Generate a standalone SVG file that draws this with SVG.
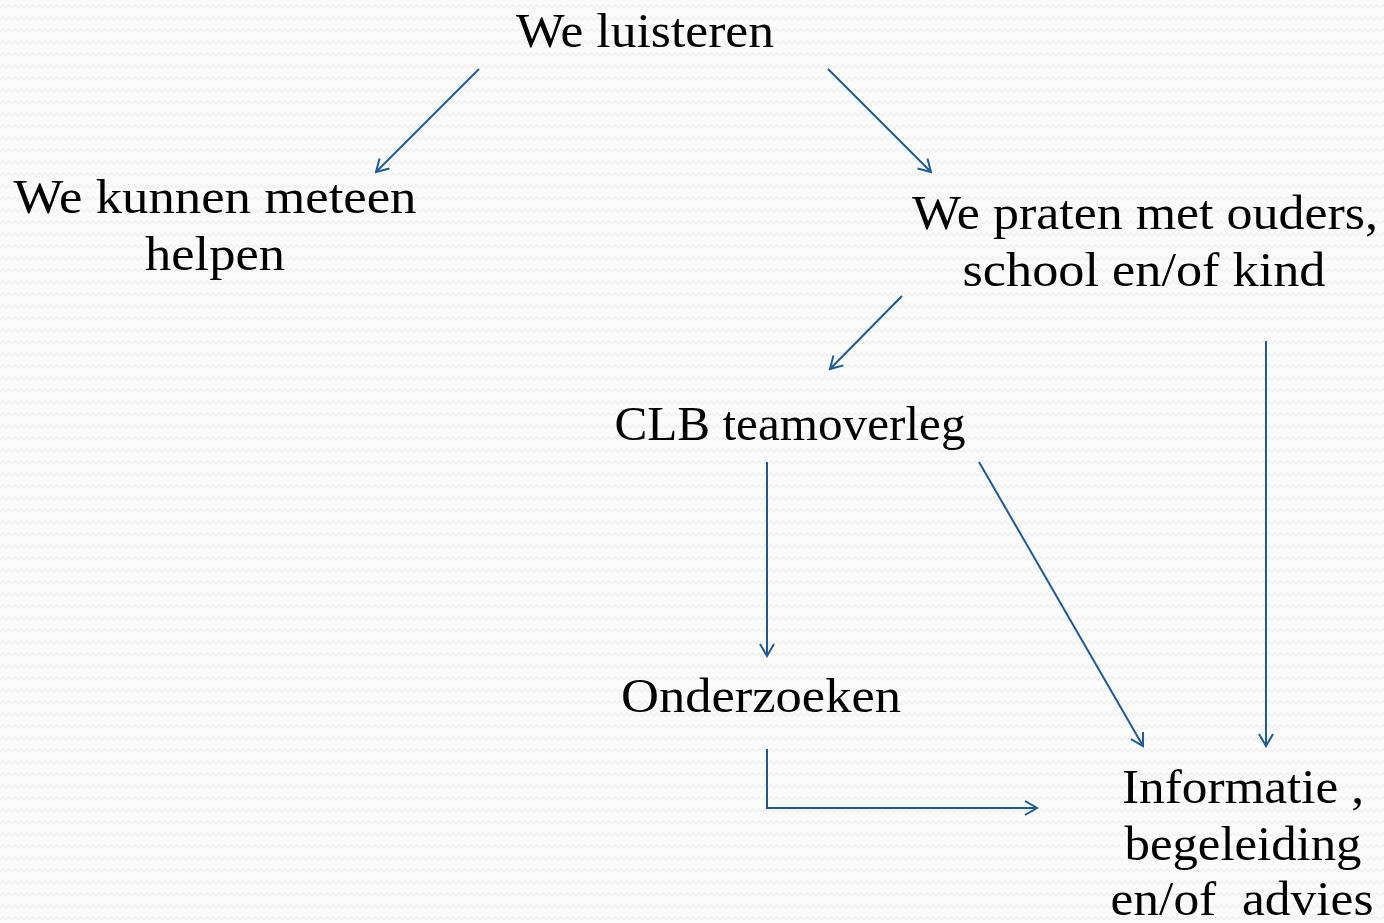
<svg xmlns="http://www.w3.org/2000/svg" width="1384" height="923" viewBox="0 0 1384 923">
<defs>
<pattern id="zz" width="12" height="12" patternUnits="userSpaceOnUse">
<rect width="12" height="12" fill="#fcfcfc"/>
<path d="M0 8 L3 5 L6 8 L9 5 L12 8" fill="none" stroke="#f4f4f4" stroke-width="2"/>
</pattern>
<marker id="ah" markerWidth="16" markerHeight="16" refX="14" refY="8" orient="auto" markerUnits="userSpaceOnUse">
<path d="M2 1 L14 8 L2 15" fill="none" stroke="#1f5a96" stroke-width="2"/>
</marker>
<style>
.t{font-family:"Liberation Serif",serif;font-size:48px;fill:#000;text-anchor:middle}
.c{fill:none;stroke:#1f5a96;stroke-width:2;marker-end:url(#ah)}
</style>
</defs>
<rect width="1384" height="923" fill="url(#zz)"/>
<g id="connectors">
<line class="c" x1="479" y1="69" x2="376" y2="172"/>
<line class="c" x1="828" y1="69" x2="931" y2="172"/>
<line class="c" x1="902" y1="296" x2="830" y2="369"/>
<line class="c" x1="767" y1="462" x2="767" y2="656"/>
<line class="c" x1="979" y1="462" x2="1143" y2="746"/>
<line class="c" x1="1266" y1="341" x2="1266" y2="746"/>
<polyline class="c" points="767,749 767,808 1037,808"/>
</g>
<g id="n1"><text class="t" x="645" y="47" textLength="258" lengthAdjust="spacingAndGlyphs">We luisteren</text></g>
<g id="n2"><text class="t" x="215" y="213" textLength="403" lengthAdjust="spacingAndGlyphs">We kunnen meteen</text><text class="t" x="215" y="270" textLength="140" lengthAdjust="spacingAndGlyphs">helpen</text></g>
<g id="n3"><text class="t" x="1145" y="229" textLength="466" lengthAdjust="spacingAndGlyphs">We praten met ouders,</text><text class="t" x="1144" y="286" textLength="363" lengthAdjust="spacingAndGlyphs">school en/of kind</text></g>
<g id="n4"><text class="t" x="790" y="440" textLength="351" lengthAdjust="spacingAndGlyphs">CLB teamoverleg</text></g>
<g id="n5"><text class="t" x="761" y="712" textLength="280" lengthAdjust="spacingAndGlyphs">Onderzoeken</text></g>
<g id="n6"><text class="t" x="1243" y="803" textLength="242" lengthAdjust="spacingAndGlyphs">Informatie ,</text><text class="t" x="1243" y="860" textLength="237" lengthAdjust="spacingAndGlyphs">begeleiding</text><text class="t" x="1242" y="915" textLength="263" lengthAdjust="spacingAndGlyphs" xml:space="preserve">en/of  advies</text></g>
</svg>
